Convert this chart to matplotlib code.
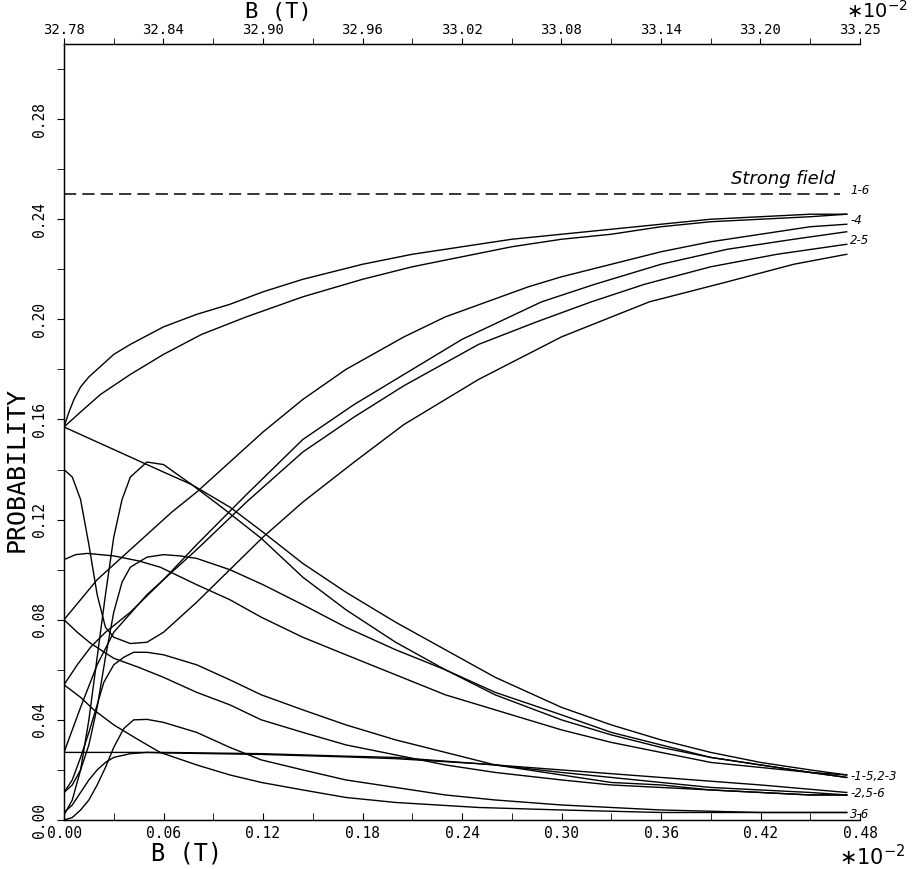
import matplotlib
matplotlib.use("Agg")
import matplotlib.pyplot as plt
from matplotlib.ticker import MultipleLocator, FormatStrFormatter

# ---------------- data (B in units of 1e-2 T, probability) ----------------
c1_x = [0, 0.003, 0.006, 0.01, 0.015, 0.02, 0.03, 0.04, 0.06, 0.08, 0.10, 0.12, 0.144, 0.18, 0.21, 0.24, 0.27, 0.30, 0.33, 0.36, 0.39, 0.42, 0.45, 0.472]
c1_p = [0.157, 0.163, 0.168, 0.173, 0.177, 0.180, 0.186, 0.190, 0.197, 0.202, 0.206, 0.211, 0.216, 0.222, 0.226, 0.229, 0.232, 0.234, 0.236, 0.238, 0.240, 0.241, 0.242, 0.242]

c2_x = [0, 0.01, 0.022, 0.04, 0.06, 0.083, 0.11, 0.144, 0.18, 0.21, 0.24, 0.27, 0.30, 0.33, 0.36, 0.39, 0.42, 0.45, 0.472]
c2_p = [0.157, 0.163, 0.170, 0.178, 0.186, 0.194, 0.201, 0.209, 0.216, 0.221, 0.225, 0.229, 0.232, 0.234, 0.237, 0.239, 0.240, 0.241, 0.242]

a_x = [0, 0.01, 0.02, 0.035, 0.05, 0.065, 0.08, 0.10, 0.12, 0.144, 0.17, 0.205, 0.23, 0.255, 0.28, 0.30, 0.33, 0.36, 0.39, 0.42, 0.45, 0.472]
a_p = [0.080, 0.088, 0.096, 0.105, 0.114, 0.123, 0.131, 0.143, 0.155, 0.168, 0.180, 0.193, 0.201, 0.207, 0.213, 0.217, 0.222, 0.227, 0.231, 0.234, 0.237, 0.238]

b_x = [0, 0.008, 0.016, 0.025, 0.04, 0.06, 0.08, 0.11, 0.144, 0.175, 0.205, 0.24, 0.288, 0.32, 0.36, 0.40, 0.44, 0.472]
b_p = [0.054, 0.062, 0.069, 0.075, 0.083, 0.096, 0.110, 0.130, 0.152, 0.166, 0.178, 0.192, 0.207, 0.214, 0.222, 0.228, 0.232, 0.235]

c_x = [0, 0.005, 0.01, 0.02, 0.03, 0.05, 0.08, 0.11, 0.144, 0.175, 0.205, 0.25, 0.285, 0.318, 0.35, 0.39, 0.43, 0.472]
c_p = [0.027, 0.036, 0.045, 0.062, 0.075, 0.090, 0.108, 0.127, 0.147, 0.161, 0.1735, 0.190, 0.199, 0.207, 0.214, 0.221, 0.226, 0.230]

d_x = [0, 0.005, 0.01, 0.015, 0.02, 0.025, 0.03, 0.04, 0.05, 0.06, 0.08, 0.10, 0.12, 0.144, 0.175, 0.205, 0.25, 0.30, 0.353, 0.40, 0.44, 0.472]
d_p = [0.140, 0.137, 0.128, 0.110, 0.090, 0.077, 0.073, 0.0705, 0.071, 0.075, 0.087, 0.100, 0.113, 0.127, 0.143, 0.158, 0.176, 0.193, 0.207, 0.215, 0.222, 0.226]

c3_x = [0, 0.02, 0.04, 0.06, 0.077, 0.10, 0.12, 0.144, 0.17, 0.20, 0.23, 0.26, 0.30, 0.33, 0.36, 0.39, 0.42, 0.45, 0.472]
c3_p = [0.157, 0.151, 0.145, 0.139, 0.134, 0.125, 0.115, 0.1025, 0.091, 0.079, 0.068, 0.057, 0.045, 0.038, 0.032, 0.027, 0.023, 0.020, 0.018]

p1_x = [0, 0.005, 0.01, 0.015, 0.02, 0.025, 0.03, 0.035, 0.04, 0.05, 0.06, 0.077, 0.095, 0.119, 0.144, 0.17, 0.20, 0.23, 0.26, 0.30, 0.33, 0.36, 0.39, 0.42, 0.45, 0.472]
p1_p = [0.002, 0.008, 0.020, 0.040, 0.065, 0.090, 0.113, 0.128, 0.137, 0.143, 0.142, 0.134, 0.125, 0.1125, 0.097, 0.084, 0.071, 0.060, 0.050, 0.040, 0.034, 0.029, 0.025, 0.022, 0.019, 0.017]

c5_x = [0, 0.007, 0.014, 0.03, 0.045, 0.058, 0.08, 0.10, 0.119, 0.144, 0.17, 0.20, 0.23, 0.26, 0.30, 0.33, 0.36, 0.39, 0.42, 0.45, 0.472]
c5_p = [0.104, 0.106, 0.1065, 0.1055, 0.1035, 0.101, 0.094, 0.088, 0.081, 0.073, 0.066, 0.058, 0.050, 0.044, 0.036, 0.031, 0.027, 0.023, 0.021, 0.019, 0.018]

p2_x = [0, 0.005, 0.01, 0.015, 0.02, 0.025, 0.03, 0.035, 0.04, 0.05, 0.06, 0.07, 0.08, 0.10, 0.12, 0.144, 0.17, 0.20, 0.23, 0.26, 0.30, 0.33, 0.36, 0.39, 0.42, 0.45, 0.472]
p2_p = [0.011, 0.014, 0.020, 0.030, 0.045, 0.065, 0.083, 0.095, 0.101, 0.105, 0.106, 0.1055, 0.1045, 0.100, 0.094, 0.086, 0.077, 0.068, 0.060, 0.051, 0.042, 0.035, 0.030, 0.025, 0.022, 0.019, 0.017]

p3_x = [0, 0.005, 0.01, 0.015, 0.02, 0.024, 0.03, 0.036, 0.042, 0.05, 0.06, 0.08, 0.10, 0.119, 0.144, 0.17, 0.20, 0.23, 0.26, 0.30, 0.33, 0.36, 0.39, 0.42, 0.45, 0.472]
p3_p = [0.011, 0.016, 0.025, 0.035, 0.046, 0.055, 0.062, 0.065, 0.067, 0.067, 0.066, 0.062, 0.056, 0.050, 0.044, 0.038, 0.032, 0.027, 0.022, 0.018, 0.015, 0.014, 0.012, 0.011, 0.010, 0.010]

c6_x = [0, 0.008, 0.016, 0.03, 0.045, 0.06, 0.08, 0.10, 0.119, 0.144, 0.17, 0.20, 0.23, 0.26, 0.30, 0.33, 0.36, 0.39, 0.42, 0.45, 0.472]
c6_p = [0.080, 0.075, 0.0706, 0.0646, 0.061, 0.057, 0.051, 0.046, 0.040, 0.035, 0.030, 0.026, 0.022, 0.019, 0.016, 0.014, 0.013, 0.012, 0.011, 0.010, 0.010]

p4_x = [0, 0.005, 0.01, 0.015, 0.02, 0.025, 0.03, 0.036, 0.042, 0.05, 0.06, 0.08, 0.10, 0.119, 0.144, 0.17, 0.20, 0.23, 0.26, 0.30, 0.33, 0.36, 0.42, 0.472]
p4_p = [0.000, 0.001, 0.004, 0.008, 0.014, 0.021, 0.029, 0.0365, 0.040, 0.0402, 0.039, 0.035, 0.029, 0.024, 0.020, 0.016, 0.013, 0.010, 0.008, 0.006, 0.005, 0.004, 0.003, 0.003]

l53_x = [0, 0.01, 0.018, 0.03, 0.045, 0.058, 0.08, 0.10, 0.119, 0.144, 0.17, 0.20, 0.25, 0.30, 0.36, 0.42, 0.472]
l53_p = [0.054, 0.049, 0.044, 0.038, 0.032, 0.027, 0.022, 0.018, 0.015, 0.012, 0.009, 0.007, 0.005, 0.004, 0.003, 0.003, 0.003]

f_x = [0, 0.06, 0.119, 0.17, 0.20, 0.23, 0.26, 0.30, 0.33, 0.36, 0.39, 0.42, 0.45, 0.472]
f_p = [0.027, 0.027, 0.0265, 0.0255, 0.025, 0.0235, 0.022, 0.019, 0.017, 0.015, 0.013, 0.012, 0.011, 0.010]

s_x = [0, 0.005, 0.01, 0.015, 0.02, 0.025, 0.03, 0.04, 0.05, 0.06, 0.119, 0.17, 0.20, 0.25, 0.30, 0.36, 0.42, 0.472]
s_p = [0.003, 0.006, 0.011, 0.016, 0.020, 0.023, 0.025, 0.0265, 0.027, 0.0268, 0.0262, 0.0252, 0.0245, 0.0225, 0.020, 0.017, 0.014, 0.011]

curves = [(c1_x, c1_p), (c2_x, c2_p), (a_x, a_p), (b_x, b_p), (c_x, c_p), (d_x, d_p),
          (c3_x, c3_p), (p1_x, p1_p), (c5_x, c5_p), (p2_x, p2_p), (p3_x, p3_p),
          (c6_x, c6_p), (p4_x, p4_p), (l53_x, l53_p), (f_x, f_p), (s_x, s_p)]

strong_field = 0.25
strong_x = [0, 0.468]

bottom_ticks = [0.00, 0.06, 0.12, 0.18, 0.24, 0.30, 0.36, 0.42, 0.48]
top_labels = ["32.78", "32.84", "32.90", "32.96", "33.02", "33.08", "33.14", "33.20", "33.25"]
y_ticks = [0.00, 0.04, 0.08, 0.12, 0.16, 0.20, 0.24, 0.28]

right_labels = [("1-6", 0.2515), ("-4", 0.2395), ("2-5", 0.2315),
                ("-1-5,2-3", 0.0175), ("-2,5-6", 0.0105), ("3-6", 0.002)]

# ---------------- drawing ----------------
plt.rcParams['font.family'] = ['DejaVu Sans Mono', 'DejaVu Sans']
fig = plt.figure(figsize=(9.13, 8.69), dpi=100)
ax = fig.add_axes([64/913, 49/869, (860-64)/913, (820-44)/869])

for xs, ps in curves:
    ax.plot(xs, ps, color='black', lw=1.0, solid_joinstyle='round')

ax.plot(strong_x, [strong_field, strong_field], color='black', lw=1.1, dashes=(8, 4))
ax.text(0.465, 0.2525, "Strong field", fontsize=13, style='italic', ha='right', va='bottom',
        family='DejaVu Sans')

for txt, yv in right_labels:
    ax.text(0.474, yv, txt, fontsize=8.5, style='italic', ha='left', va='center',
            family='DejaVu Sans', clip_on=False)

ax.set_xlim(0, 0.48)
ax.set_ylim(0, 0.31)
ax.spines['right'].set_visible(False)
for s in ['left', 'bottom', 'top']:
    ax.spines[s].set_linewidth(1.0)

ax.set_xticks(bottom_ticks)
ax.xaxis.set_major_formatter(FormatStrFormatter('%.2f'))
ax.xaxis.set_minor_locator(MultipleLocator(0.03))
ax.set_yticks(y_ticks)
ax.yaxis.set_major_formatter(FormatStrFormatter('%.2f'))
ax.yaxis.set_minor_locator(MultipleLocator(0.02))
ax.tick_params(axis='x', which='both', direction='in', length=5, labelsize=10.5, pad=4)
ax.tick_params(axis='y', which='both', direction='out', length=5, labelsize=10.5, pad=7)
for lab in ax.get_yticklabels():
    lab.set_rotation(90)
    lab.set_va('center')

fig.text(17/913, 1 - 470/869, "PROBABILITY", fontsize=18, rotation=90, ha='center', va='center')
fig.text(187/913, 1 - 854/869, "B (T)", fontsize=17, ha='center', va='center')
fig.text(278/913, 1 - 12/869, "B (T)", fontsize=16, ha='center', va='center')

top = ax.twiny()
top.set_xlim(ax.get_xlim())
top.set_xticks(bottom_ticks)
top.set_xticklabels(top_labels)
top.xaxis.set_minor_locator(MultipleLocator(0.03))
top.tick_params(axis='x', which='both', direction='out', length=4, labelsize=10, pad=1)
top.spines['right'].set_visible(False)

fig.text(0.995, 1 - 11/869, r"$\ast10^{-2}$", fontsize=14, ha='right', va='center')
fig.text(0.992, 1 - 857/869, r"$\ast10^{-2}$", fontsize=15, ha='right', va='center')

fig.savefig("out.png", dpi=100)
